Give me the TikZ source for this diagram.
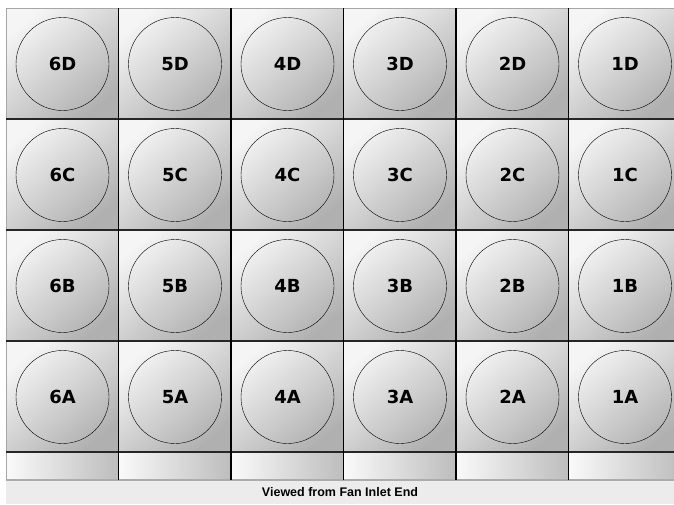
\documentclass[tikz,border=0pt]{standalone}
\usepackage{fontspec}
\setmainfont{Liberation Sans}
\newfontfamily\fanfont{DejaVu Sans}
\begin{document}
\begin{tikzpicture}[x=1pt,y=-1pt,
    cell/.style={top color=gray!8, bottom color=gray!62, shading angle=40},
    strip/.style={left color=gray!4, right color=gray!52},
    fan/.style={circle, draw, thin, minimum size=93pt, inner sep=0pt,
      text height=13pt, text depth=0pt,
      font=\fanfont\bfseries\fontsize{18}{20}\selectfont}]
  \useasboundingbox (0,0) rectangle (674,504);
  \clip (0,0) rectangle (674,504);
  \fill[white] (0,0) rectangle (674,504);
  % fan cells
  \foreach \col [count=\i from 0] in {6,5,4,3,2,1} {
    \foreach \row [count=\j from 0] in {D,C,B,A} {
      \shade[cell] (6+112.5*\i,8+111*\j) rectangle ++(112.5,111);
      \node[fan] (fan\col\row) at (62.5+112.5*\i,64+111*\j) {\col\row};
    }
    \shade[strip] (6+112.5*\i,452) rectangle ++(112.5,28);
  }
  % caption band
  \fill[gray!15] (6,480) rectangle (674,504);
  \draw[gray!65, line width=1.6pt] (6,480) -- (674,480);
  \node[font=\bfseries\fontsize{12.5}{14}\selectfont] (caption) at (340,492.5)
    {Viewed from Fan Inlet End};
  % grid lines
  \draw[gray!70, line width=1pt] (6,8) -- (674,8);
  \draw[gray!70, line width=1pt] (6,8) -- (6,480);
  \foreach \j in {1,...,4}
    \draw[black!85, line width=1.4pt] (6,8+111*\j) -- (674,8+111*\j);
  \foreach \i in {1,...,5}
    \draw[black, line width=1.6pt] (6+112.5*\i,8) -- (6+112.5*\i,480);
\end{tikzpicture}
\end{document}
